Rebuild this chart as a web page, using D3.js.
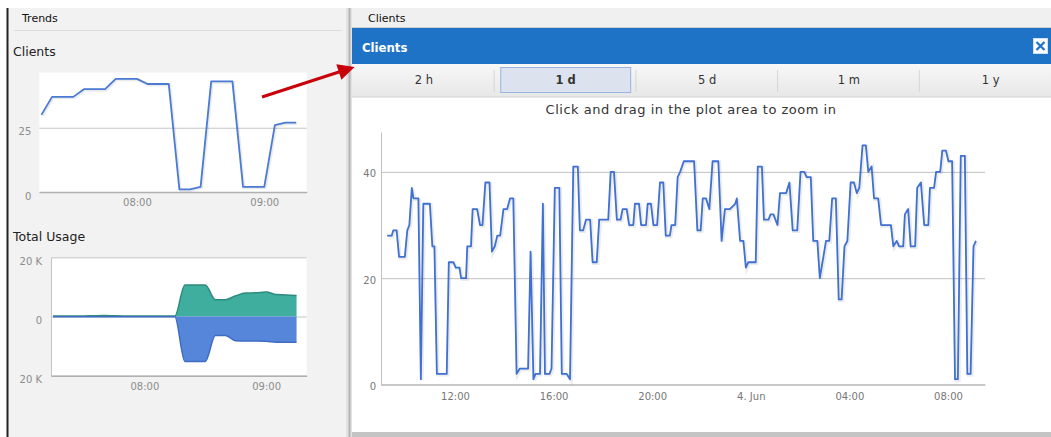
<!DOCTYPE html>
<html>
<head>
<meta charset="utf-8">
<script src="https://cdn.jsdelivr.net/npm/d3@7"></script>
<style>
  body { margin: 0; background: #fff; }
  svg { display: block; font-family: "DejaVu Sans", Verdana, sans-serif; }
</style>
</head>
<body>
<script>
/* data */

// main chart: minutes after 3 Jun 09:00, number of clients
var clientMinutes = [
  15, 26, 30, 38, 44, 58, 64, 69, 75, 79,
  91, 97, 103, 119, 125, 130, 136, 160, 165, 176,
  182, 191, 195, 207, 210, 219, 223, 234, 241, 247,
  254, 264, 270, 277, 283, 290, 298, 307, 314, 322,
  330, 338, 358, 364, 371, 376, 387, 394, 399, 410,
  415, 423, 434, 440, 452, 460, 468, 479, 484, 492,
  499, 509, 515, 525, 531, 553, 559, 567, 574, 583,
  588, 598, 604, 614, 618, 628, 633, 645, 649, 657,
  663, 672, 679, 687, 693, 703, 707, 716, 722, 728,
  737, 762, 770, 778, 783, 791, 799, 807, 821, 829,
  837, 849, 862, 866, 874, 882, 888, 894, 912, 917,
  927, 932, 943, 948, 955, 965, 971, 986, 994, 1002,
  1013, 1021, 1030, 1036, 1046, 1052, 1062, 1068, 1083, 1091,
  1098, 1107, 1114, 1121, 1128, 1135, 1143, 1151, 1158, 1164,
  1172, 1180, 1186, 1194, 1200, 1210, 1217, 1241, 1247, 1255,
  1261, 1271, 1275, 1283, 1289, 1300, 1305, 1314, 1322, 1332,
  1336, 1346, 1351, 1361, 1366, 1375, 1381, 1390, 1397, 1404,
  1411, 1421, 1427, 1435, 1442, 1448
];
var clientValues = [
  28, 28, 29, 29, 24, 24, 29, 30, 37, 35,
  35, 1, 34, 34, 26, 26, 2, 2, 23, 23,
  22, 22, 20, 20, 26, 26, 33, 33, 30, 30,
  38, 38, 25, 26, 28, 28, 33, 33, 35, 35,
  2, 3, 3, 25, 1, 2, 2, 34, 2, 2,
  3, 37, 37, 2, 2, 1, 41, 41, 29, 29,
  31, 31, 23, 23, 31, 31, 40, 40, 31, 31,
  33, 33, 30, 30, 34, 34, 30, 30, 34, 34,
  30, 30, 38, 38, 28, 28, 30, 30, 39, 40,
  42, 42, 29, 29, 35, 35, 33, 42, 42, 27,
  33, 33, 34, 35, 27, 27, 22, 23, 23, 41,
  41, 31, 31, 32, 32, 30, 36, 36, 38, 29,
  29, 40, 40, 39, 39, 27, 27, 20, 27, 27,
  35, 35, 16, 16, 26, 27, 38, 38, 36, 37,
  45, 45, 40, 41, 35, 35, 30, 30, 26, 27,
  26, 26, 32, 33, 26, 26, 37, 38, 30, 30,
  37, 37, 40, 40, 44, 44, 42, 42, 1, 1,
  43, 43, 2, 2, 26, 27
];
var mainYTicks = [0, 20, 40];

// trends panel
var trendTimes = ['07:15', '07:20', '07:30', '07:35', '07:45', '07:50', '08:00', '08:05', '08:15', '08:20',
  '08:25', '08:30', '08:35', '08:45', '08:50', '09:00', '09:05', '09:10', '09:15'];
var trendClients = [30, 37, 37, 40, 40, 44, 44, 42, 42, 1, 1, 2, 43, 43, 2, 2, 26, 27, 27];
var trendYTicks = [0, 25];

var usageTimes = ['07:15', '07:20', '07:25', '07:30', '07:35', '07:40', '07:45', '07:50', '07:55', '08:00',
  '08:05', '08:10', '08:15', '08:20', '08:25', '08:30', '08:35', '08:40', '08:45', '08:50',
  '08:55', '09:00', '09:05', '09:10', '09:15'];
var usageUp = [150, 150, 200, 200, 250, 300, 250, 200, 150, 150,
  150, 150, 150, 10600, 10600, 10600, 5700, 5700, 7000, 7900,
  8000, 8300, 7400, 7300, 7100];
var usageDown = [-100, -100, -100, -100, -100, -100, -100, -100, -100, -100,
  -100, -100, -100, -15200, -15200, -15200, -6400, -6400, -8200, -8300,
  -8300, -8400, -8700, -8700, -8700];
var usageYTicks = [-20000, 0, 20000];

var tabLabels = ['2 h', '1 d', '5 d', '1 m', '1 y'];
var selectedTab = '1 d';


/* canvas */

var width = 1051;
var height = 437;

var svg = d3.select('body').
  append('svg').
  attr('width', width).
  attr('height', height);

var defs = svg.append('defs');

var tabGrad = defs.append('linearGradient').attr('id', 'tabGrad').attr('x1', 0).attr('x2', 0).attr('y1', 0).attr('y2', 1);
tabGrad.append('stop').attr('offset', '0%').attr('stop-color', '#f8f8f8');
tabGrad.append('stop').attr('offset', '100%').attr('stop-color', '#e7e7e7');

defs.append('marker').
  attr('id', 'arrowHead').
  attr('viewBox', '0 0 10 10').
  attr('refX', 2).attr('refY', 5).
  attr('markerWidth', 6).attr('markerHeight', 5.5).
  attr('orient', 'auto').
  append('path').attr('d', 'M0,0 L10,5 L0,10 z').attr('fill', '#c8000a');

var parseHM = d3.utcParse('%H:%M');


/* left panel: trends */

svg.append('rect').attr('x', 8).attr('y', 8).attr('width', 339).attr('height', 429).attr('fill', '#f2f2f2');
svg.append('line').attr('x1', 7.5).attr('x2', 7.5).attr('y1', 8).attr('y2', height).attr('stroke', '#222').attr('stroke-width', 2);
svg.append('text').attr('x', 22).attr('y', 22).attr('font-size', 11).attr('fill', '#111').text('Trends');
svg.append('line').attr('x1', 14).attr('x2', 342).attr('y1', 30.5).attr('y2', 30.5).attr('stroke', '#dcdcdc');

svg.append('text').attr('x', 13).attr('y', 56).attr('font-size', 12.5).attr('fill', '#222').text('Clients');
svg.append('text').attr('x', 13).attr('y', 241).attr('font-size', 12.5).attr('fill', '#222').text('Total Usage');

// splitter
svg.append('rect').attr('x', 346).attr('y', 8).attr('width', 6).attr('height', height - 8).attr('fill', '#e2e2e2');
svg.append('line').attr('x1', 349.5).attr('x2', 349.5).attr('y1', 8).attr('y2', height).attr('stroke', '#b4b4b4').attr('stroke-width', 2);

var trendDomain = [parseHM('07:14'), parseHM('09:20')];
var hourFmt = d3.utcFormat('%H:%M');

// clients trend
var xTrend = d3.scaleUtc().domain(trendDomain).range([39.3, 306.7]);
var yTrend = d3.scaleLinear().domain([0, 46.4]).range([192, 72.7]);

svg.append('rect').attr('x', 39.3).attr('y', 72.7).attr('width', 267.4).attr('height', 119.3).attr('fill', '#fff');

var trendY = svg.append('g').attr('transform', 'translate(39.3,0)').
  call(d3.axisLeft(yTrend).tickValues(trendYTicks).tickSize(-267.4).tickSizeOuter(0).tickPadding(8));
trendY.select('.domain').remove();
trendY.selectAll('line').attr('stroke', '#c4c4c4');
trendY.selectAll('text').attr('fill', '#8c8c8c').attr('font-size', 10).attr('dy', '0.7em').
  attr('font-family', '"DejaVu Sans", Verdana, sans-serif');

var trendX = svg.append('g').attr('transform', 'translate(0,192)').
  call(d3.axisBottom(xTrend).ticks(d3.utcHour.every(1)).tickFormat(hourFmt).tickSize(0).tickSizeOuter(0).tickPadding(7));
trendX.select('.domain').attr('stroke', '#b0b0b0').attr('stroke-width', 1.5);
trendX.selectAll('text').attr('fill', '#8c8c8c').attr('font-size', 10).attr('font-family', '"DejaVu Sans", Verdana, sans-serif');

var trendLine = d3.line().
  x(function (d, i) {return xTrend(parseHM(trendTimes[i]));}).
  y(function (d) {return yTrend(d);});

svg.append('path').datum(trendClients).attr('d', trendLine).
  attr('fill', 'none').attr('stroke', 'rgba(0,0,0,0.08)').attr('stroke-width', 3).attr('transform', 'translate(1,1)');
svg.append('path').datum(trendClients).attr('d', trendLine).
  attr('fill', 'none').attr('stroke', '#4a7ad4').attr('stroke-width', 1.8).attr('stroke-linejoin', 'round');

// total usage trend
var xUsage = d3.scaleUtc().domain(trendDomain).range([51, 306.7]);
var yUsage = d3.scaleLinear().domain([-20000, 20000]).range([375.7, 257.3]);

svg.append('rect').attr('x', 51).attr('y', 257.3).attr('width', 255.7).attr('height', 118.4).attr('fill', '#fff');

var usageY = svg.append('g').attr('transform', 'translate(51,0)').
  call(d3.axisLeft(yUsage).tickValues(usageYTicks).tickSize(-255.7).tickSizeOuter(0).tickPadding(9).
    tickFormat(function (d) {return d === 0 ? '0' : Math.abs(d) / 1000 + ' K';}));
usageY.select('.domain').attr('stroke', '#c4c4c4');
usageY.selectAll('line').attr('stroke', '#c4c4c4');
usageY.selectAll('text').attr('fill', '#8c8c8c').attr('font-size', 10).attr('dy', '0.7em').
  attr('font-family', '"DejaVu Sans", Verdana, sans-serif');

var usageX = svg.append('g').attr('transform', 'translate(0,375.7)').
  call(d3.axisBottom(xUsage).ticks(d3.utcHour.every(1)).tickFormat(hourFmt).tickSize(0).tickSizeOuter(0).tickPadding(7));
usageX.select('.domain').attr('stroke', '#b0b0b0').attr('stroke-width', 1.5);
usageX.selectAll('text').attr('fill', '#8c8c8c').attr('font-size', 10).attr('font-family', '"DejaVu Sans", Verdana, sans-serif');

function usageArea(values) {
  return d3.area().
    x(function (d, i) {return xUsage(parseHM(usageTimes[i]));}).
    y0(yUsage(0)).
    y1(function (d) {return yUsage(d);}).
    curve(d3.curveMonotoneX)(values);
}
function usageEdge(values) {
  return d3.line().
    x(function (d, i) {return xUsage(parseHM(usageTimes[i]));}).
    y(function (d) {return yUsage(d);}).
    curve(d3.curveMonotoneX)(values);
}

svg.append('path').attr('d', usageArea(usageUp)).attr('fill', '#3fae9f');
svg.append('path').attr('d', usageArea(usageDown)).attr('fill', '#5686da');
svg.append('path').attr('d', usageEdge(usageUp)).attr('fill', 'none').attr('stroke', '#2d8b7e').attr('stroke-width', 1.5);
svg.append('path').attr('d', usageEdge(usageDown)).attr('fill', 'none').attr('stroke', '#3f6cc2').attr('stroke-width', 1.5);


/* right panel: clients window */

svg.append('rect').attr('x', 352).attr('y', 8).attr('width', width - 352).attr('height', 20).attr('fill', '#f0f0f0');
svg.append('line').attr('x1', 352).attr('x2', width).attr('y1', 27.5).attr('y2', 27.5).attr('stroke', '#cfcfcf');
svg.append('text').attr('x', 368).attr('y', 22).attr('font-size', 11).attr('fill', '#111').text('Clients');

svg.append('rect').attr('x', 352).attr('y', 28).attr('width', width - 352).attr('height', 36).attr('fill', '#1e73c6');
svg.append('text').attr('x', 362).attr('y', 52).attr('font-size', 13).attr('font-weight', 'bold').
  attr('font-family', '"DejaVu Sans Condensed", "DejaVu Sans", sans-serif').attr('fill', '#fff').text('Clients');

// close button
svg.append('rect').attr('x', 1033.5).attr('y', 38.5).attr('width', 14).attr('height', 15).attr('fill', '#fff').attr('stroke', '#cfe0f3');
svg.append('path').attr('d', 'M1036.5,42 L1044.5,50 M1044.5,42 L1036.5,50').attr('stroke', '#1e73c6').attr('stroke-width', 2.2);

// range tabs
svg.append('rect').attr('x', 352).attr('y', 64).attr('width', width - 352).attr('height', 33).attr('fill', 'url(#tabGrad)');
svg.append('line').attr('x1', 352).attr('x2', width).attr('y1', 97).attr('y2', 97).attr('stroke', '#d2d2d2');

var tabW = 141.7;
var tabX = d3.scaleBand().domain(tabLabels).range([353, 353 + tabW * tabLabels.length]);

var tabs = svg.selectAll('g.tab').data(tabLabels).enter().append('g').attr('class', 'tab').
  attr('transform', function (d) {return 'translate(' + tabX(d) + ',64)';});

tabs.filter(function (d) {return d === selectedTab;}).append('rect').
  attr('x', 6).attr('y', 3.5).attr('width', 130).attr('height', 25).
  attr('fill', '#dde3ee').attr('stroke', '#98b5e0');

tabs.filter(function (d, i) {return i > 0;}).append('line').
  attr('x1', -0.5).attr('x2', -0.5).attr('y1', 6).attr('y2', 28).attr('stroke', '#d6d6d6');

tabs.append('text').
  attr('x', tabW / 2).attr('y', 20).
  attr('text-anchor', 'middle').
  attr('font-size', 11.5).
  attr('font-weight', function (d) {return d === selectedTab ? 'bold' : 'normal';}).
  attr('fill', '#333').
  text(function (d) {return d;});

// content area
svg.append('rect').attr('x', 352).attr('y', 98).attr('width', width - 352).attr('height', 334).attr('fill', '#fff');
svg.append('rect').attr('x', 352).attr('y', 432).attr('width', width - 352).attr('height', 5).attr('fill', '#c4c4c4');

svg.append('text').attr('x', 691).attr('y', 114).attr('text-anchor', 'middle').
  attr('font-size', 13).attr('letter-spacing', 0.5).attr('fill', '#333').text('Click and drag in the plot area to zoom in');


/* main chart */

var mainStart = Date.UTC(2014, 5, 3, 9, 0);
var mainEnd = Date.UTC(2014, 5, 4, 9, 30);

var xMain = d3.scaleUtc().domain([new Date(mainStart), new Date(mainEnd)]).range([381, 985]);
var yMain = d3.scaleLinear().domain([0, 47.5]).range([384.5, 132]);

var mainFmt = function (d) {
  return d.getUTCHours() === 0 ? d3.utcFormat('%-d. %b')(d) : d3.utcFormat('%H:%M')(d);
};

var mainY = svg.append('g').attr('transform', 'translate(381,0)').
  call(d3.axisLeft(yMain).tickValues(mainYTicks).tickSize(-604).tickSizeOuter(0).tickPadding(5));
mainY.select('.domain').attr('stroke', '#c0c0c0');
mainY.selectAll('line').attr('stroke', '#c0c0c0');
mainY.selectAll('text').attr('fill', '#777').attr('font-size', 10).attr('dy', '0.5em').
  attr('font-family', '"DejaVu Sans", Verdana, sans-serif');

var mainX = svg.append('g').attr('transform', 'translate(0,384.5)').
  call(d3.axisBottom(xMain).ticks(d3.utcHour.every(4)).tickFormat(mainFmt).tickSize(0).tickSizeOuter(0).tickPadding(8));
mainX.select('.domain').attr('stroke', '#b0b0b0').attr('stroke-width', 1.2);
mainX.selectAll('text').attr('fill', '#777').attr('font-size', 10).attr('font-family', '"DejaVu Sans", Verdana, sans-serif');

var mainLine = d3.line().
  x(function (d, i) {return xMain(new Date(mainStart + clientMinutes[i] * 60000));}).
  y(function (d) {return yMain(d);});

svg.append('path').datum(clientValues).attr('d', mainLine).
  attr('fill', 'none').attr('stroke', 'rgba(0,0,0,0.08)').attr('stroke-width', 3.5).attr('transform', 'translate(1,1)');
svg.append('path').datum(clientValues).attr('d', mainLine).
  attr('fill', 'none').attr('stroke', '#3f70d2').attr('stroke-width', 1.8).attr('stroke-linejoin', 'round');


/* arrow annotation */

svg.append('line').
  attr('x1', 262).attr('y1', 97).attr('x2', 342).attr('y2', 71).
  attr('stroke', '#c8000a').attr('stroke-width', 3).
  attr('marker-end', 'url(#arrowHead)');
</script>
</body>
</html>
